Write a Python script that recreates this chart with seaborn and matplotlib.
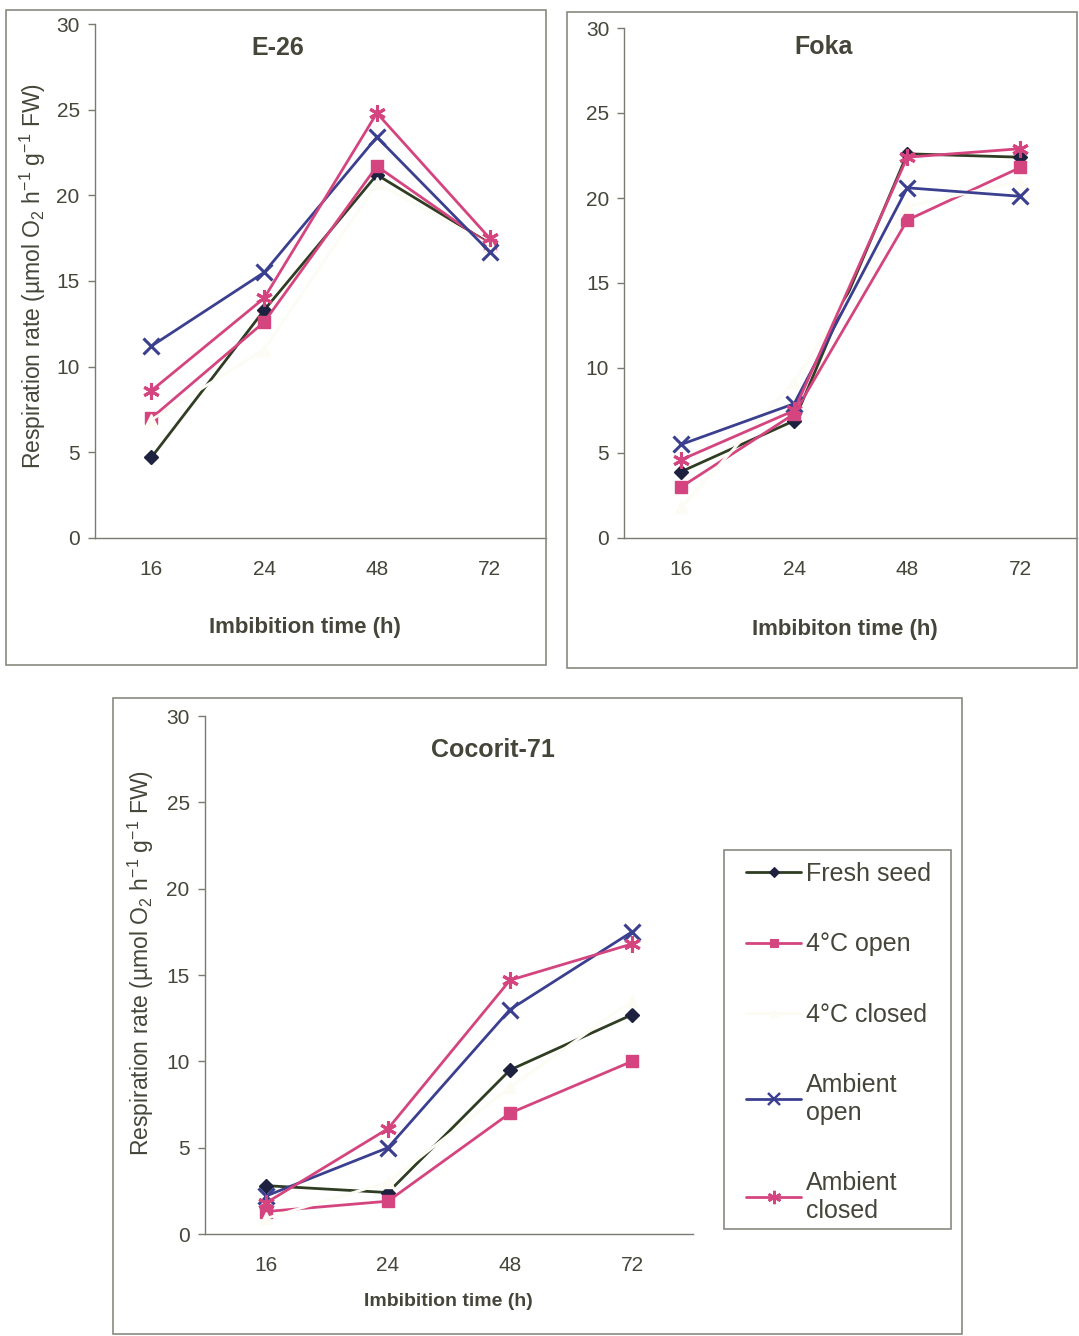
import numpy as np
import pandas as pd
import matplotlib
matplotlib.use("Agg")
import matplotlib.pyplot as plt
import seaborn as sns
from matplotlib.patches import Rectangle
from matplotlib.lines import Line2D

sns.set_style("white")
plt.rcParams['font.family'] = ['Liberation Sans', 'DejaVu Sans']
plt.rcParams['mathtext.fontset'] = 'custom'
plt.rcParams['mathtext.rm'] = 'Liberation Sans'
plt.rcParams['mathtext.it'] = 'Liberation Sans:italic'
plt.rcParams['mathtext.bf'] = 'Liberation Sans:bold'

# -------------------------
# Data
# -------------------------
times = ["16", "24", "48", "72"]
series_names = ["Fresh seed", "4°C open", "4°C closed", "Ambient\nopen", "Ambient\nclosed"]

e26_fresh = [4.7, 13.3, 21.2, 17.2]
e26_cold_open = [7.0, 12.6, 21.7, 17.1]
e26_cold_closed = [6.9, 11.0, 20.7, 17.1]
e26_amb_open = [11.2, 15.5, 23.4, 16.7]
e26_amb_closed = [8.6, 14.0, 24.8, 17.5]

foka_fresh = [3.9, 6.9, 22.6, 22.4]
foka_cold_open = [3.0, 7.3, 18.7, 21.8]
foka_cold_closed = [1.8, 9.2, 19.5, 21.0]
foka_amb_open = [5.5, 7.9, 20.6, 20.1]
foka_amb_closed = [4.6, 7.5, 22.4, 22.9]

coc_fresh = [2.8, 2.4, 9.5, 12.7]
coc_cold_open = [1.3, 1.9, 7.0, 10.0]
coc_cold_closed = [0.9, 3.0, 8.5, 13.5]
coc_amb_open = [2.2, 5.0, 13.0, 17.5]
coc_amb_closed = [1.8, 6.1, 14.7, 16.8]

# -------------------------
# Styles
# -------------------------
TXT = "#45453a"
AXC = "#7a7a70"
PINK = "#d4457f"
NAVY = "#3b3f8f"
PALE = "#fcfcf4"
STYLES = [
    dict(color="#2f3d22", marker="D", ms=7, mfc="#1e2240", mec="#1e2240", mew=1),
    dict(color=PINK, marker="s", ms=8, mfc=PINK, mec=PINK, mew=1),
    dict(color=PALE, marker="^", ms=8, mfc=PALE, mec=PALE, mew=1),
    dict(color=NAVY, marker="x", ms=11, mfc=NAVY, mec=NAVY, mew=2.2),
    dict(color=PINK, marker=(6, 2, 0), ms=12, mfc=PINK, mec=PINK, mew=2.2),
]

W, H = 1079, 1336
fig = plt.figure(figsize=(W / 100, H / 100), dpi=100)
fig.patch.set_facecolor("white")


def fx(px):
    return px / W


def fy(py):
    return 1 - py / H


def box(x0, y0, x1, y1):
    fig.patches.append(Rectangle((fx(x0), fy(y1)), fx(x1 - x0), (y1 - y0) / H,
                                 transform=fig.transFigure, fill=False,
                                 edgecolor="#8a8a80", lw=1.2, zorder=0))


def panel(rect, data, title, title_pos, tick_size=15):
    ax = fig.add_axes(rect)
    pos = np.arange(len(times))
    for name, vals, st in zip(series_names, data, STYLES):
        df = pd.DataFrame({"pos": pos, "val": vals})
        sns.lineplot(data=df, x="pos", y="val", ax=ax, lw=2.0, color=st["color"],
                     marker=st["marker"], markersize=st["ms"], markerfacecolor=st["mfc"],
                     markeredgecolor=st["mec"], markeredgewidth=st["mew"], legend=False)
    ax.set_xlim(-0.5, len(times) - 0.5)
    ax.set_ylim(0, 30)
    ax.set_yticks(range(0, 31, 5))
    ax.set_xticks(pos)
    ax.set_xticklabels(times)
    ax.set_xticks(np.arange(-0.5, len(times), 1.0), minor=True)
    ax.tick_params(axis="x", which="major", length=0, pad=16, labelsize=tick_size, labelcolor=TXT)
    ax.tick_params(axis="x", which="minor", length=5, width=1, color=AXC, direction="out")
    ax.tick_params(axis="y", length=5, width=1, color=AXC, direction="out", pad=6,
                   labelsize=tick_size, labelcolor=TXT, left=True)
    for s in ["top", "right"]:
        ax.spines[s].set_visible(False)
    for s in ["left", "bottom"]:
        ax.spines[s].set_color(AXC)
        ax.spines[s].set_linewidth(1.0)
    ax.set_xlabel("")
    ax.set_ylabel("")
    ax.text(title_pos[0], title_pos[1], title, transform=ax.transAxes, ha="center",
            va="center", fontsize=18, fontweight="bold", color=TXT)
    return ax


YLAB = "Respiration rate (µmol O$_2$ h$^{-1}$ g$^{-1}$ FW)"

# boxes around each chart
box(6, 10, 546, 665)
box(567, 12, 1077, 668)
box(113, 698, 962, 1334)
box(724, 850, 951, 1229)

# E-26
panel([fx(95), fy(538), fx(546 - 95), (538 - 24) / H],
      [e26_fresh, e26_cold_open, e26_cold_closed, e26_amb_open, e26_amb_closed],
      "E-26", (0.406, 0.953))
fig.text(fx(305), fy(627), "Imbibition time (h)", ha="center", va="center",
         fontsize=16, fontweight="bold", color=TXT)
fig.text(fx(33), fy(276), YLAB, rotation=90, ha="center", va="center", fontsize=16.5, color=TXT)

# Foka
panel([fx(624.5), fy(538), fx(1077 - 624.5), (538 - 28) / H],
      [foka_fresh, foka_cold_open, foka_cold_closed, foka_amb_open, foka_amb_closed],
      "Foka", (0.439, 0.963))
fig.text(fx(845), fy(629), "Imbibiton time (h)", ha="center", va="center",
         fontsize=16, fontweight="bold", color=TXT)

# Cocorit-71
panel([fx(205), fy(1234), fx(693 - 205), (1234 - 716) / H],
      [coc_fresh, coc_cold_open, coc_cold_closed, coc_amb_open, coc_amb_closed],
      "Cocorit-71", (0.59, 0.934))
fig.text(fx(448), fy(1301), "Imbibition time (h)", ha="center", va="center",
         fontsize=14, fontweight="bold", color=TXT)
fig.text(fx(141), fy(963), YLAB, rotation=90, ha="center", va="center", fontsize=16.5, color=TXT)

# legend
handles = [Line2D([0], [0], color=st["color"], lw=2.0, marker=st["marker"],
                  markersize=st["ms"] * 0.8, markerfacecolor=st["mfc"],
                  markeredgecolor=st["mec"], markeredgewidth=st["mew"] * 0.8)
           for st in STYLES]
leg = fig.legend(handles, series_names, loc="upper left",
                 bbox_to_anchor=(fx(746), fy(862)), frameon=False, borderpad=0,
                 borderaxespad=0, fontsize=18, labelspacing=1.85, handlelength=2.2,
                 handletextpad=0.2)
for t in leg.get_texts():
    t.set_color(TXT)
    t.set_linespacing(1.2)

fig.savefig("out.png", dpi=100, facecolor="white")
